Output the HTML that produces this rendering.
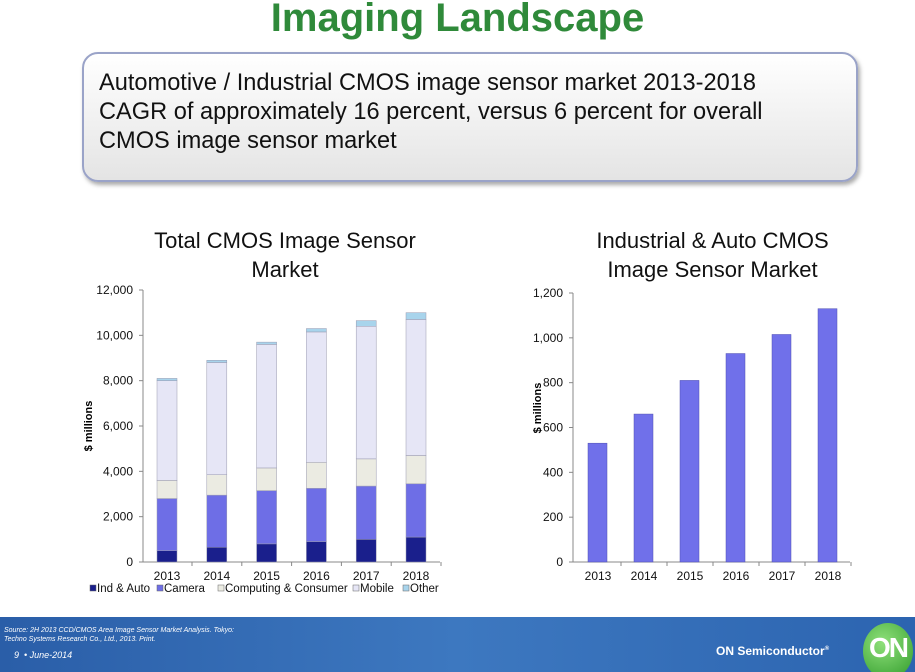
<!DOCTYPE html>
<html><head><meta charset="utf-8"><style>
body{margin:0;width:915px;height:672px;overflow:hidden;background:#fff;font-family:"Liberation Sans",Arial,sans-serif;position:relative}
#title{position:absolute;top:-4px;left:0;width:915px;text-align:center;font-size:40px;font-weight:bold;color:#2f8a3a}
#box{position:absolute;left:82px;top:52px;width:772px;height:126px;border:2px solid #9aa3c8;border-radius:16px;background:linear-gradient(#ffffff,#e4e4e4);box-shadow:2px 3px 4px #aaa}
#box div{position:absolute;left:15px;top:15px;font-size:23.6px;line-height:29px;color:#111}
#footer{position:absolute;left:0;top:617px;width:915px;height:55px;background:linear-gradient(90deg,#2a5ea8,#3d78c0 50%,#2c64b0);overflow:hidden}
.ct{position:absolute;text-align:center;font-size:22px;color:#111;line-height:29px}
</style></head><body>
<div id="title">Imaging Landscape</div>
<div id="box"><div>Automotive / Industrial CMOS image sensor market 2013-2018<br>CAGR of approximately 16 percent, versus 6 percent for overall<br>CMOS image sensor market</div></div>
<div class="ct" style="left:120px;top:226px;width:330px">Total CMOS Image Sensor<br>Market</div>
<div class="ct" style="left:545px;top:226px;width:335px">Industrial &amp; Auto CMOS<br>Image Sensor Market</div>
<svg id="c" width="915" height="672" style="position:absolute;left:0;top:0"></svg>
<div id="footer">
<div style="position:absolute;left:4px;top:9px;font-size:7px;font-style:italic;color:#fff;line-height:9px">Source: 2H 2013 CCD/CMOS Area Image Sensor Market Analysis. Tokyo:<br>Techno Systems Research Co., Ltd., 2013. Print.</div>
<div style="position:absolute;left:14px;top:33px;font-size:9px;font-style:italic;color:#fff">9 &nbsp;• June-2014</div>
<div style="position:absolute;left:716px;top:27px;font-size:12px;font-weight:bold;color:#fff">ON Semiconductor<sup style="font-size:6px">®</sup></div>
<div style="position:absolute;left:863px;top:6px;width:50px;height:56px;border-radius:50%;background:radial-gradient(circle at 40% 35%,#8fe07a,#2f9a2a);color:#fff;font-weight:bold;font-size:28px;line-height:50px;text-align:center;letter-spacing:-2px">ON</div>
</div>
<script>
const years=["2013","2014","2015","2016","2017","2018"];
const indAuto=[500,650,800,900,1000,1100];
const camera=[2300,2300,2350,2350,2350,2350];
const computing=[800,900,1000,1150,1200,1250];
const mobile=[4400,4950,5450,5750,5850,6000];
const other=[100,100,100,150,250,300];
const leftTicks=[0,2000,4000,6000,8000,10000,12000];
const rightVals=[530,660,810,930,1015,1130];
const rightTicks=[0,200,400,600,800,1000,1200];
const NS="http://www.w3.org/2000/svg",svg=document.getElementById('c');
function mk(t,a,txt){const e=document.createElementNS(NS,t);for(const k in a)e.setAttribute(k,a[k]);if(txt!=null)e.textContent=txt;svg.appendChild(e);return e;}
function axes(x0,x1,y0,y1,max,ticks,fmt,name){
 const y=v=>y0-(v/max)*(y0-y1);
 let e=mk('line',{x1:x0,y1:y0,x2:x0,y2:y1,stroke:'#888'});
 e=mk('line',{x1:x0-4,y1:y0,x2:x1,y2:y0,stroke:'#888'});
 ticks.forEach(t=>{mk('line',{x1:x0-4,x2:x0,y1:y(t),y2:y(t),stroke:'#888'});
  e=mk('text',{x:x0-10,y:y(t)+4,'text-anchor':'end','font-size':12,fill:'#111'},fmt(t));});
 return y;}
const fmt=v=>v.toLocaleString('en-US');
const ly=axes(143,440,562,290,12000,leftTicks,fmt,'left');
const lx=i=>167+i*49.8;
const series=[[indAuto,'#1a1f8c','ind-auto'],[camera,'#6e6ee6','camera'],[computing,'#ebebe2','computing'],[mobile,'#e6e6f6','mobile'],[other,'#a8d4ec','other']];
years.forEach((yr,i)=>{let c=0;series.forEach(([arr,col,n])=>{const a=ly(c),b=ly(c+arr[i]);
 const r=mk('rect',{x:lx(i)-10,y:b,width:20,height:a-b,fill:col,stroke:'#9a9ab0','stroke-width':0.5});
 c+=arr[i];});
 const t=mk('text',{x:lx(i),y:580,'text-anchor':'middle','font-size':12,fill:'#111'},yr);
 mk('line',{x1:lx(i)+25,x2:lx(i)+25,y1:562,y2:566,stroke:'#888'});});
let t=mk('text',{x:0,y:0,transform:'translate(92,426) rotate(-90)','text-anchor':'middle','font-size':11,'font-weight':'bold'},'$ millions');
const leg=[['Ind & Auto',90],['Camera',157],['Computing & Consumer',218],['Mobile',353],['Other',403]];
leg.forEach(([n,x],k)=>{mk('rect',{x:x,y:585,width:6,height:6,fill:series[k][1],stroke:'#666','stroke-width':0.5});
 const e=mk('text',{x:x+7,y:592,'font-size':11.5,fill:'#111'},n);});
const ry=axes(573,850,562,293,1200,rightTicks,fmt,'right');
const rx=i=>598+i*46;
years.forEach((yr,i)=>{const r=mk('rect',{x:rx(i)-10,y:ry(rightVals[i]),width:19,height:562-ry(rightVals[i]),fill:'#7070ea',stroke:'#5050b0','stroke-width':0.5});
 
 const e=mk('text',{x:rx(i),y:580,'text-anchor':'middle','font-size':12,fill:'#111'},yr);
 mk('line',{x1:rx(i)+23,x2:rx(i)+23,y1:562,y2:566,stroke:'#888'});});
t=mk('text',{x:0,y:0,transform:'translate(541,408) rotate(-90)','text-anchor':'middle','font-size':11,'font-weight':'bold'},'$ millions');
</script>
</body></html>
